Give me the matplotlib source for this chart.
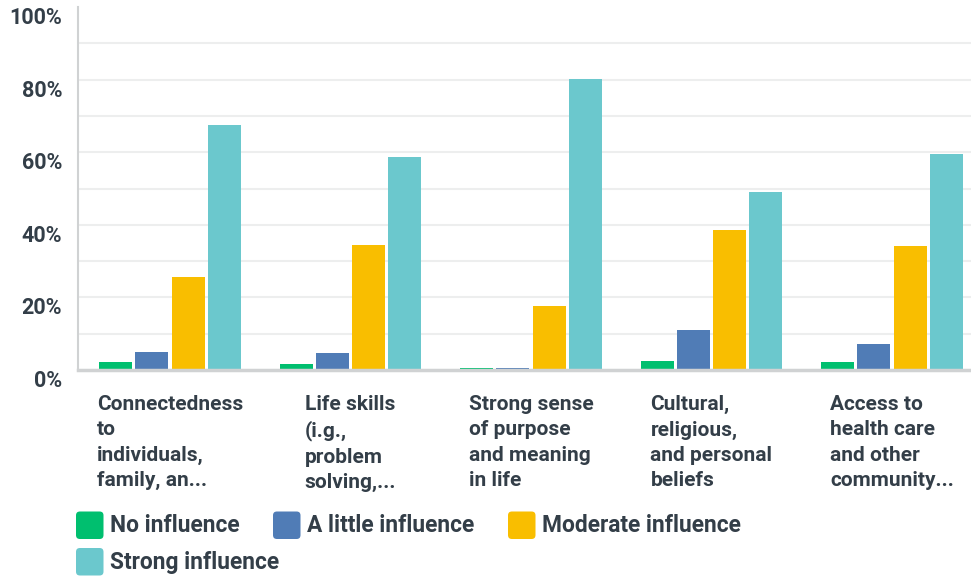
import matplotlib
matplotlib.use("Agg")
import matplotlib.pyplot as plt
from matplotlib.patches import FancyBboxPatch
import numpy as np

categories = [
    "Connectedness\nto\nindividuals,\nfamily, an...",
    "Life skills\n(i.g.,\nproblem\nsolving,...",
    "Strong sense\nof purpose\nand meaning\nin life",
    "Cultural,\nreligious,\nand personal\nbeliefs",
    "Access to\nhealth care\nand other\ncommunity...",
]
series_names = ["No influence", "A little influence", "Moderate influence", "Strong influence"]
no_influence = [2.2, 1.7, 0.6, 2.5, 2.2]
little_influence = [5.0, 4.7, 0.6, 11.0, 7.2]
moderate_influence = [25.6, 34.4, 17.6, 38.6, 34.2]
strong_influence = [67.5, 58.7, 80.2, 49.0, 59.5]
yticks = [0, 20, 40, 60, 80, 100]
ytick_labels = ["0%", "20%", "40%", "60%", "80%", "100%"]

colors = ["#00BF6F", "#507CB6", "#F9BE00", "#6BC8CD"]
text_color = "#333E48"
font = ["Roboto", "DejaVu Sans"]

W, H = 971, 576
fig = plt.figure(figsize=(W / 100, H / 100), dpi=100)
left_px, right_px, top_px, bottom_px = 78, 971, 7, 370
ax = fig.add_axes([left_px / W, 1 - bottom_px / H, (right_px - left_px) / W, (bottom_px - top_px) / H])

values = [no_influence, little_influence, moderate_influence, strong_influence]
x = np.arange(len(categories))
step = 0.2
width = 0.183
for i, (vals, c) in enumerate(zip(values, colors)):
    ax.bar(x + (i - 1.5) * step, vals, width=width, color=c, label=series_names[i], zorder=3)

cat_px = 180.5
ax.set_xlim(-0.5 - 1.75 / cat_px, -0.5 + (right_px - left_px) / cat_px - 1.75 / cat_px)
ax.set_ylim(0, 100)

for g in range(10, 100, 10):
    ax.axhline(g, color="#EDEEEE", lw=1.5, zorder=1)

for s in ["top", "right"]:
    ax.spines[s].set_visible(False)
ax.spines["left"].set_color("#D0D2D3")
ax.spines["left"].set_linewidth(1.5)
ax.spines["bottom"].set_color("#D0D2D3")
ax.spines["bottom"].set_linewidth(2.5)
ax.spines["bottom"].set_zorder(4)

ax.set_yticks(yticks)
ax.set_yticklabels(ytick_labels, fontfamily=font, fontsize=15.5, fontweight="bold", color=text_color, va="top")
ax.tick_params(axis="y", length=0, pad=11.5)

ax.set_xticks(x)
ax.set_xticklabels(categories, fontfamily=font, fontsize=15, fontweight="bold", color=text_color,
                   ha="center", linespacing=1.42)
for t in ax.get_xticklabels():
    t.set_multialignment("left")
ax.tick_params(axis="x", length=0, pad=18)

# legend (flow layout)
leg_items = [(76, 511.5), (273, 511.5), (508, 511.5), (76, 548)]
for (px, py), name, c in zip(leg_items, series_names, colors):
    patch = FancyBboxPatch((px / W, 1 - (py + 27.5) / H), 27.5 / W, 27.5 / H,
                           boxstyle="round,pad=0,rounding_size=0.004",
                           transform=fig.transFigure, facecolor=c, edgecolor="none",
                           mutation_aspect=W / H)
    fig.patches.append(patch)
    fig.text((px + 34) / W, 1 - (py + 14) / H, name, fontfamily=font, fontsize=16.4,
             fontweight="bold", color=text_color, va="center", ha="left")

fig.savefig("out.png", dpi=100)
